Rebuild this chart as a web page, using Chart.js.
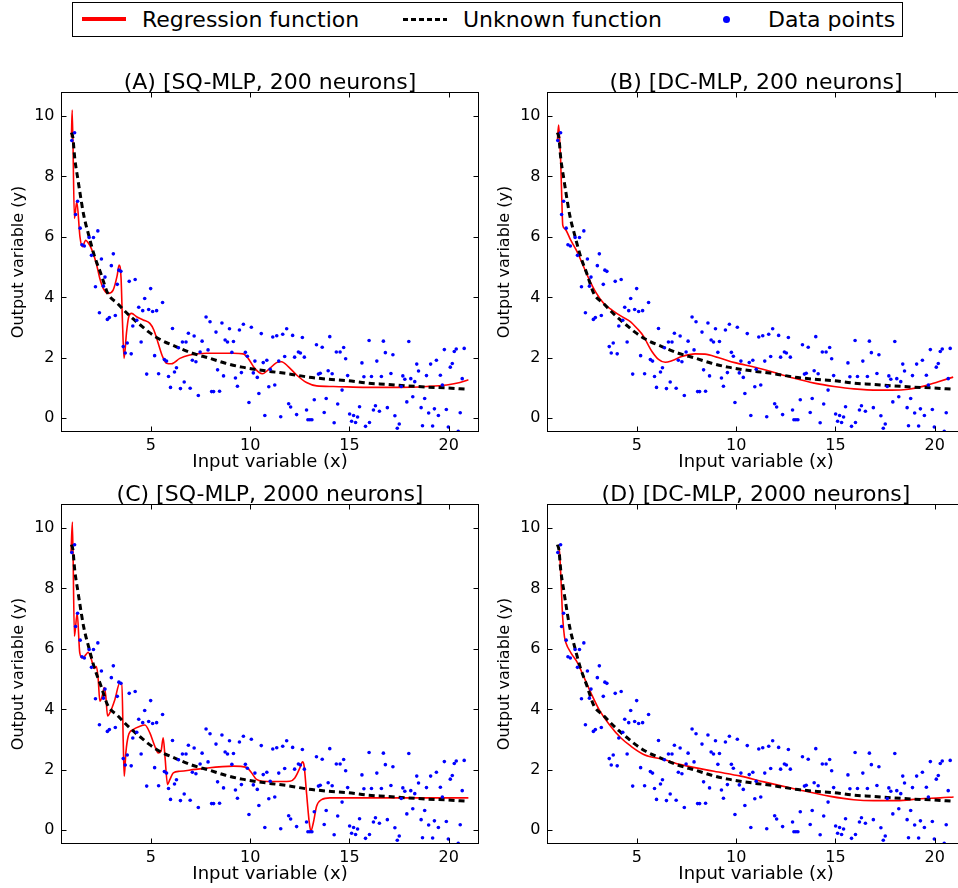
<!DOCTYPE html>
<html>
<head>
<meta charset="utf-8">
<script src="https://cdn.jsdelivr.net/npm/chart.js@4.4.0/dist/chart.umd.min.js"></script>
<style>
  html, body { margin: 0; padding: 0; background: #fff; width: 958px; height: 888px; overflow: hidden; }
  canvas { position: absolute; }
  #legend { position: absolute; left: 72px; top: 2px; width: 829px; height: 33px; border: 1px solid #000;
            font-family: "DejaVu Sans"; font-size: 22px; color: #000; }
  #legend span { position: absolute; top: 0; line-height: 33px; white-space: nowrap; }
  #legend .mk { position: absolute; }
</style>
</head>
<body>
<div id="legend">
  <div class="mk" style="left:9px;top:14px;width:44px;height:4px;background:#ff0000;"></div>
  <span style="left:69px;">Regression function</span>
  <div class="mk" style="left:330px;top:15px;width:44px;height:3px;background:repeating-linear-gradient(90deg,#000 0 5px,transparent 5px 8px);"></div>
  <span style="left:390px;">Unknown function</span>
  <div class="mk" style="left:650px;top:13px;width:7px;height:7px;border-radius:50%;background:#0000ff;"></div>
  <span style="left:695px;">Data points</span>
</div>
<canvas id="cA" width="490" height="427" style="left:0px;top:50px;"></canvas>
<canvas id="cB" width="490" height="427" style="left:486px;top:50px;"></canvas>
<canvas id="cC" width="490" height="427" style="left:0px;top:462px;"></canvas>
<canvas id="cD" width="490" height="427" style="left:486px;top:462px;"></canvas>
<script>
// observed data points (same sample in all four panels)
const xData = [1.16, 1.02, 1.31, 1.21, 1.44, 2.33, 2.11, 1.89, 1.53, 1.65, 2.01, 2.51, 3.11, 3.01, 3.39, 3.49,
  2.69, 2.21, 2.61, 3.31, 3.91, 4.21, 4.99, 4.69, 5.59, 4.39, 4.59, 4.89, 5.09, 5.29, 2.41, 2.81, 2.91, 3.21,
  4.29, 4.09, 4.51, 3.61, 3.81, 3.71, 4.01, 5.19, 4.79, 5.39, 7.78, 7.98, 8.58, 6.09, 6.89, 7.18, 8.28, 8.96,
  9.66, 9.46, 10.06, 10.56, 11.14, 7.58, 6.59, 6.77, 8.74, 8.86, 9.16, 6.39, 7.88, 7.48, 9.08, 9.76, 9.86,
  5.68, 5.79, 7.09, 7.27, 10.24, 10.84, 10.66, 6.29, 8.36, 9.56, 6.19, 10.16, 5.89, 10.36, 8.66, 9.26, 6.68,
  9.36, 5.99, 6.49, 6.98, 7.39, 8.06, 8.16, 8.46, 10.94, 10.44, 9.94, 10.74, 11.84, 11.34, 11.64, 12.14,
  12.63, 14.01, 15.99, 13.34, 13.63, 14.71, 12.43, 12.53, 14.34, 14.53, 11.74, 12.24, 12.73, 14.81, 11.44,
  16.38, 15.63, 11.01, 13.93, 13.53, 13.44, 14.13, 14.91, 15.73, 16.11, 11.24, 14.63, 13.23, 13.83, 11.94,
  12.04, 14.41, 15.51, 16.31, 12.84, 16.21, 13.73, 12.34, 15.01, 15.21, 15.41, 11.54, 12.91, 13.01, 13.11,
  15.11, 15.31, 14.23, 15.81, 16.01, 16.71, 17.99, 16.81, 17.19, 19.78, 20.38, 20.28, 20.78, 18.39, 19.38,
  19.09, 20.18, 20.08, 18.48, 17.09, 16.61, 17.69, 17.79, 18.09, 18.29, 18.88, 19.58, 20.68, 17.61, 19.68,
  18.19, 18.79, 17.89, 16.51, 16.91, 18.61, 19.28, 19.88, 18.99, 19.48, 20.58, 17.29, 17.51, 17.41, 18.68,
  19.19, 19.98, 20.48];
const yData = [9.45, 9.19, 7.18, 6.74, 6.29, 6.20, 5.98, 5.98, 5.74, 5.70, 5.39, 5.27, 5.44, 5.05, 4.90, 4.86,
  4.67, 4.35, 4.37, 4.43, 4.53, 4.59, 4.29, 3.96, 3.83, 3.67, 3.56, 3.60, 3.53, 3.56, 3.49, 3.27, 3.33, 3.40,
  3.24, 3.05, 2.52, 2.37, 2.49, 2.16, 2.13, 2.07, 1.46, 1.47, 3.35, 3.19, 3.15, 2.97, 2.81, 2.72, 2.85, 2.96,
  3.11, 2.92, 3.01, 2.80, 2.69, 2.55, 2.52, 2.52, 2.59, 2.52, 2.54, 2.33, 2.26, 2.19, 2.18, 2.18, 2.05,
  1.94, 1.89, 1.92, 1.87, 1.89, 1.92, 1.84, 1.67, 1.60, 1.51, 1.53, 1.50, 1.38, 1.35, 1.40, 1.33, 1.20,
  1.06, 1.02, 0.98, 0.99, 0.75, 0.88, 0.88, 0.89, 1.04, 0.82, 0.52, 0.09, 2.96, 2.73, 2.78, 2.74,
  2.67, 2.70, 2.57, 2.43, 2.35, 2.34, 2.19, 2.16, 2.19, 2.19, 2.04, 2.02, 2.02, 1.97, 1.89,
  1.89, 1.83, 1.62, 1.57, 1.49, 1.46, 1.47, 1.41, 1.37, 1.38, 1.10, 0.93, 0.61, 0.65, 0.48,
  0.37, 0.47, 0.38, 0.41, 0.27, 0.27, 0.19, 0.12, 0.14, 0.09, 0.04, 0.05, -0.05, -0.05, -0.05,
  -0.10, -0.14, -0.15, -0.27, -0.14, 2.55, 2.54, 2.17, 2.10, 2.27, 2.29, 2.21, 2.31, 1.79, 1.92,
  1.79, 1.81, 1.69, 1.56, 1.48, 1.38, 1.40, 1.29, 1.31, 1.21, 1.41, 1.42, 1.31, 1.05, 1.10,
  0.71, 0.65, 0.54, 0.23, 0.35, 0.35, 0.31, 0.29, 0.17, 0.09, 0.18, 0.08, -0.19, -0.33, -0.25,
  -0.26, -0.29, -0.43];

// unknown (true) function, dashed
const trueX = [1.0, 1.07, 1.17, 1.32, 1.45, 1.62, 1.87, 2.15, 2.48, 2.84, 3.32, 3.59, 3.9, 4.26, 4.57, 4.92,
  5.42, 6.26, 7.09, 7.93, 8.76, 9.59, 10.42, 11.09, 11.93, 12.93, 13.93, 14.93, 15.93, 16.93, 17.93, 18.93,
  19.93, 20.93];
const trueY = [9.45, 9.3, 8.59, 7.93, 7.38, 6.72, 6.06, 5.39, 4.79, 4.12, 3.8, 3.61, 3.41, 3.2, 3.03, 2.84,
  2.62, 2.37, 2.15, 1.99, 1.82, 1.69, 1.6, 1.54, 1.47, 1.36, 1.29, 1.24, 1.16, 1.12, 1.07, 1.03, 1.0, 0.96];

// regression curves
const regAX = [1.0, 1.04, 1.15, 1.27, 1.43, 1.55, 1.72, 1.85, 2.0, 2.25, 2.42, 2.6, 2.85, 3.1, 3.3, 3.4, 3.5,
  3.57, 3.65, 3.77, 3.87, 4.03, 4.28, 4.61, 4.95, 5.15, 5.37, 5.59, 5.79, 6.04, 6.46, 6.96, 7.8, 9.15, 9.65,
  9.9, 10.23, 10.62, 10.91, 11.33, 11.58, 11.92, 12.34, 12.84, 13.35, 14.19, 15.87, 17.55, 18.89, 19.9,
  20.57, 20.99];
const regAY = [9.3, 10.2, 6.61, 7.16, 6.0, 5.68, 5.89, 5.8, 5.62, 5.13, 4.65, 4.3, 4.13, 4.24, 4.71, 5.07, 4.63,
  3.2, 1.98, 2.81, 3.31, 3.47, 3.36, 3.25, 3.14, 2.92, 2.48, 2.04, 1.82, 1.8, 1.98, 2.09, 2.15, 2.15, 2.13,
  1.98, 1.65, 1.47, 1.6, 1.84, 1.87, 1.71, 1.43, 1.18, 1.07, 1.05, 1.02, 1.02, 1.05, 1.1, 1.18, 1.27];

const regBX = [1.0, 1.06, 1.12, 1.16, 1.21, 1.27, 1.37, 1.67, 2.0, 2.25, 2.58, 2.92, 3.33, 3.75, 4.25, 4.67,
  5.0, 5.34, 5.55, 5.76, 6.09, 6.43, 6.76, 7.26, 7.93, 8.43, 9.09, 9.93, 11.0, 11.93, 12.93, 13.93, 14.93,
  15.93, 17.18, 17.84, 18.68, 19.51, 20.18, 20.93];
const regBY = [9.2, 9.7, 9.1, 8.59, 7.49, 6.38, 6.27, 5.89, 5.5, 5.12, 4.62, 4.18, 3.8, 3.58, 3.36, 3.2,
  2.98, 2.71, 2.45, 2.21, 1.95, 1.85, 1.9, 2.04, 2.13, 2.12, 2.01, 1.84, 1.68, 1.51, 1.32, 1.16, 1.05,
  0.97, 0.93, 0.93, 0.96, 1.07, 1.21, 1.36];

const regCX = [0.98, 1.05, 1.15, 1.29, 1.42, 1.56, 1.73, 1.84, 2.01, 2.15, 2.26, 2.35, 2.43, 2.55, 2.65, 2.73,
  2.82, 2.94, 3.19, 3.44, 3.54, 3.61, 3.66, 3.74, 3.86, 4.11, 4.45, 4.7, 4.95, 5.2, 5.37, 5.51, 5.62, 5.71,
  5.84, 5.96, 6.13, 6.46, 7.47, 9.15, 9.82, 10.07, 10.32, 10.66, 11.16, 12.0, 12.25, 12.51, 12.64, 12.72,
  12.84, 12.98, 13.06, 13.18, 13.35, 13.6, 14.02, 15.87, 18.39, 20.99];
const regCY = [9.2, 10.2, 6.42, 7.19, 5.87, 5.7, 5.81, 5.89, 5.64, 5.35, 5.42, 4.98, 4.27, 4.44, 4.72, 4.44,
  3.78, 3.89, 4.33, 4.88, 4.88, 2.89, 1.79, 2.56, 3.11, 3.33, 3.44, 3.48, 3.22, 2.78, 2.56, 2.61, 3.06, 2.45,
  1.51, 1.68, 1.9, 1.95, 2.03, 2.12, 2.08, 1.9, 1.68, 1.62, 1.61, 1.62, 1.73, 2.07, 2.26, 2.12,
  1.23, 0.24, -0.03, 0.24, 0.8, 1.01, 1.07, 1.07, 1.07, 1.07];

const regDX = [1.03, 1.11, 1.18, 1.26, 1.35, 1.43, 1.68, 2.02, 2.35, 2.69, 3.1, 3.61, 4.2, 4.7, 5.37, 6.37,
  7.21, 8.89, 10.23, 11.4, 13.08, 14.75, 15.92, 16.93, 18.1, 19.28, 20.28, 20.95];
const regDY = [9.39, 9.17, 8.29, 7.08, 6.42, 6.2, 5.87, 5.53, 5.04, 4.54, 3.99, 3.5, 3.05, 2.78, 2.5, 2.34,
  2.17, 1.95, 1.79, 1.6, 1.35, 1.12, 1.01, 0.98, 0.98, 1.04, 1.07, 1.1];

const xTicks = [5, 10, 15, 20];
const yTicks = [0, 2, 4, 6, 8, 10];

function pts(xs, ys) {
  return xs.map((x, i) => ({x: x, y: ys[i]}));
}

// matplotlib-like frame with inward ticks on all four sides
const innerTicks = {
  id: 'innerTicks',
  afterDraw(chart) {
    const ctx = chart.ctx;
    const a = chart.chartArea;
    const sx = chart.scales.x, sy = chart.scales.y;
    ctx.save();
    ctx.strokeStyle = '#000';
    ctx.lineWidth = 1;
    ctx.strokeRect(a.left, a.top, a.right - a.left, a.bottom - a.top);
    ctx.beginPath();
    xTicks.forEach(v => {
      const p = Math.round(sx.getPixelForValue(v)) + 0.5;
      ctx.moveTo(p, a.bottom); ctx.lineTo(p, a.bottom - 5);
      ctx.moveTo(p, a.top); ctx.lineTo(p, a.top + 5);
    });
    yTicks.forEach(v => {
      const p = Math.round(sy.getPixelForValue(v)) + 0.5;
      ctx.moveTo(a.left, p); ctx.lineTo(a.left + 5, p);
      ctx.moveTo(a.right, p); ctx.lineTo(a.right - 5, p);
    });
    ctx.stroke();
    ctx.restore();
  }
};

const font = 'DejaVu Sans';

function makePanel(id, title, rx, ry) {
  new Chart(document.getElementById(id), {
    type: 'scatter',
    data: {
      datasets: [
        {
          label: 'Data points',
          data: pts(xData, yData),
          pointRadius: 1.8,
          pointBorderWidth: 0,
          backgroundColor: '#0000ff',
          order: 0
        },
        {
          label: 'Unknown function',
          data: pts(trueX, trueY),
          showLine: true,
          pointRadius: 0,
          borderColor: '#000',
          borderWidth: 3,
          borderDash: [6, 4],
          cubicInterpolationMode: 'monotone',
          order: 1
        },
        {
          label: 'Regression function',
          data: pts(rx, ry),
          showLine: true,
          pointRadius: 0,
          borderColor: '#ff0000',
          borderWidth: 1.6,
          cubicInterpolationMode: 'monotone',
          order: 2
        }
      ]
    },
    options: {
      responsive: false,
      animation: false,
      events: [],
      layout: { padding: { left: 0, right: 11.5, top: 0, bottom: 0 } },
      plugins: {
        legend: { display: false },
        tooltip: { enabled: false },
        title: {
          display: true,
          text: title,
          fullSize: false,
          color: '#000',
          font: { family: font, size: 22, weight: 'normal', lineHeight: 0.8 },
          padding: { top: 24.7, bottom: 0.2 }
        }
      },
      scales: {
        x: {
          type: 'linear',
          min: 0.5,
          max: 21.5,
          afterBuildTicks: s => { s.ticks = xTicks.map(v => ({ value: v })); },
          afterFit: s => { s.height = 45.5; },
          grid: { display: false, drawTicks: false },
          border: { display: false },
          ticks: { color: '#000', font: { family: font, size: 16 }, padding: 5, maxRotation: 0 },
          title: {
            display: true, text: 'Input variable (x)', color: '#000',
            font: { family: font, size: 18 }, padding: { top: 0, bottom: 4.1 }
          }
        },
        y: {
          type: 'linear',
          min: -0.44,
          max: 10.78,
          afterBuildTicks: s => { s.ticks = yTicks.map(v => ({ value: v })); },
          afterFit: s => { s.width = 61.5; },
          grid: { display: false, drawTicks: false },
          border: { display: false },
          ticks: { color: '#000', font: { family: font, size: 16 }, padding: 7 },
          title: {
            display: true, text: 'Output variable (y)', color: '#000',
            font: { family: font, size: 16 }, padding: { top: 9.4, bottom: 0 }
          }
        }
      }
    },
    plugins: [innerTicks]
  });
}

makePanel('cA', '(A) [SQ-MLP, 200 neurons]', regAX, regAY);
makePanel('cB', '(B) [DC-MLP, 200 neurons]', regBX, regBY);
makePanel('cC', '(C) [SQ-MLP, 2000 neurons]', regCX, regCY);
makePanel('cD', '(D) [DC-MLP, 2000 neurons]', regDX, regDY);
</script>
</body>
</html>
